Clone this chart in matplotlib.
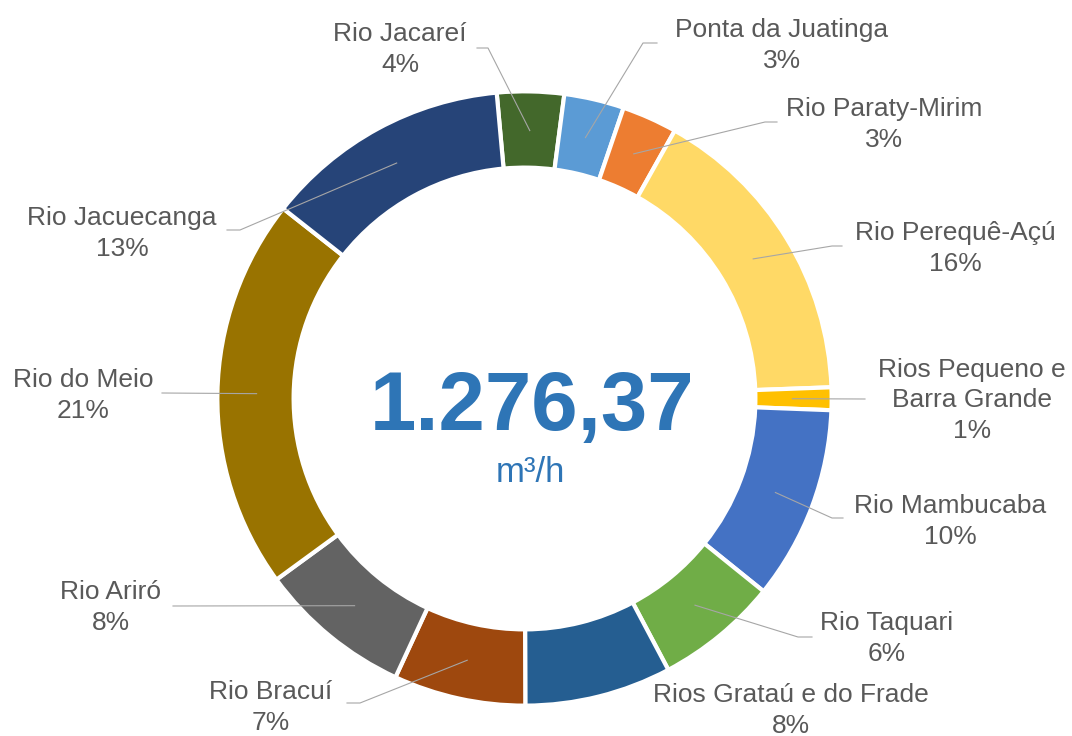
import matplotlib
matplotlib.use("Agg")
import matplotlib.pyplot as plt
import numpy as np

names = ["Rio Jacareí", "Ponta da Juatinga", "Rio Paraty-Mirim", "Rio Perequê-Açú",
         "Rios Pequeno e\nBarra Grande", "Rio Mambucaba", "Rio Taquari",
         "Rios Grataú e do Frade", "Rio Bracuí", "Rio Ariró", "Rio do Meio",
         "Rio Jacuecanga"]
flows = [44.9, 40.3, 37.1, 207.8, 15.2, 130.1, 82.2, 98.5, 88.6, 102.9, 263.57, 165.2]
unit = "m³/h"

colors = ["#43682B", "#5B9BD5", "#ED7D31", "#FFD966", "#FFC000", "#4472C4",
          "#70AD47", "#255E91", "#9E480E", "#636363", "#997300", "#264478"]

# label layout in pixels: text anchor (last baseline), elbow, tail end
text_pos = [(400, 72), (782, 68), (884, 147), (955, 271), (972, 438), (950, 544),
            (887, 661), (791, 733), (271, 730), (111, 630), (83, 418), (122, 256)]
elbows = [(488, 48), (643, 43), (765, 122), (832, 246), (865, 399), (832, 518),
          (798, 637), None, (360, 703), (173, 606), (162, 393), (240, 230)]
tails = [(477, 48), (657, 43), (777, 122), (842, 246), (865, 399), (843, 518),
         (812, 637), None, (347, 703), (173, 606), (162, 393), (227, 230)]

W, H = 1072, 736
cx, cy, R = 524.5, 398.5, 305.0


def px(x, y):
    return (x - cx) / R, (cy - y) / R


fig = plt.figure(figsize=(W / 100, H / 100), dpi=100)
ax = fig.add_axes([0, 0, 1, 1])

ring = 0.243
wedges, _ = ax.pie(flows, colors=colors, startangle=95.2, counterclock=False,
                   radius=1.007,
                   wedgeprops=dict(width=ring + 0.007, edgecolor="white", linewidth=3))

x0, y0 = px(0, H)
x1, y1 = px(W, 0)
ax.set_xlim(x0, x1)
ax.set_ylim(y0, y1)
ax.set_aspect("auto")
ax.axis("off")

total = sum(flows)
font = "Liberation Sans"
lc = "#A6A6A6"
for i, w in enumerate(wedges):
    pct = round(flows[i] / total * 100)
    tx, ty = px(*text_pos[i])
    ax.text(tx, ty, f"{names[i]}\n{pct}%", ha="center", va="baseline",
            multialignment="center", fontsize=19, color="#595959",
            family=font, linespacing=1.35)
    if elbows[i] is None:
        continue
    mid = np.deg2rad((w.theta1 + w.theta2) / 2)
    rm = 1.0 - ring / 2
    sx, sy = rm * np.cos(mid), rm * np.sin(mid)
    ex, ey = px(*elbows[i])
    tx2, ty2 = px(*tails[i])
    ax.plot([sx, ex, tx2], [sy, ey, ty2], color=lc, lw=0.8, zorder=5)

txt = f"{total:,.2f}".replace(",", "X").replace(".", ",").replace("X", ".")
bx, by = px(532, 430)
ax.text(bx, by, txt, ha="center", va="baseline", fontsize=60, fontweight="bold",
        color="#2E75B6", family=font)
ux, uy = px(530, 482)
ax.text(ux, uy, unit, ha="center", va="baseline", fontsize=25,
        color="#2E75B6", family=font)

fig.savefig("out.png", dpi=100)
